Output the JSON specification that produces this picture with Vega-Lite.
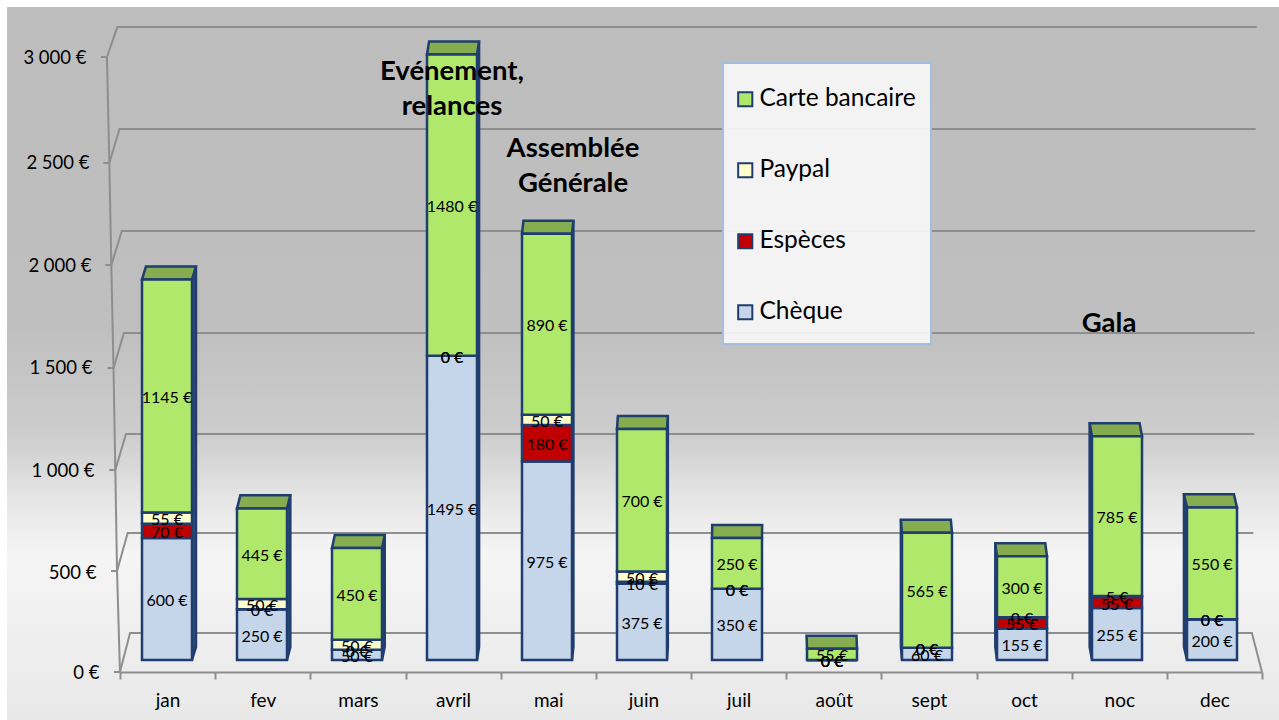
{
"$schema":"https://vega.github.io/schema/vega-lite/v6.json",
"width":1279,"height":720,"padding":0,"autosize":{"type":"none"},
"background":"white",
"config":{"view":{"stroke":null},"font":"Lato"},
"datasets":{
"rows":[
{"m":"jan","k":1,"mode":"Chèque","v":600,"label":"600 €"},{"m":"jan","k":2,"mode":"Espèces","v":70,"label":"70 €"},{"m":"jan","k":3,"mode":"Paypal","v":55,"label":"55 €"},{"m":"jan","k":4,"mode":"Carte bancaire","v":1145,"label":"1145 €"},
{"m":"fev","k":1,"mode":"Chèque","v":250,"label":"250 €"},{"m":"fev","k":2,"mode":"Espèces","v":0,"label":"0 €"},{"m":"fev","k":3,"mode":"Paypal","v":50,"label":"50 €"},{"m":"fev","k":4,"mode":"Carte bancaire","v":445,"label":"445 €"},
{"m":"mars","k":1,"mode":"Chèque","v":50,"label":"50 €"},{"m":"mars","k":2,"mode":"Espèces","v":0,"label":"0 €"},{"m":"mars","k":3,"mode":"Paypal","v":50,"label":"50 €"},{"m":"mars","k":4,"mode":"Carte bancaire","v":450,"label":"450 €"},
{"m":"avril","k":1,"mode":"Chèque","v":1495,"label":"1495 €"},{"m":"avril","k":2,"mode":"Espèces","v":0,"label":"0 €"},{"m":"avril","k":3,"mode":"Paypal","v":0,"label":"0 €"},{"m":"avril","k":4,"mode":"Carte bancaire","v":1480,"label":"1480 €"},
{"m":"mai","k":1,"mode":"Chèque","v":975,"label":"975 €"},{"m":"mai","k":2,"mode":"Espèces","v":180,"label":"180 €"},{"m":"mai","k":3,"mode":"Paypal","v":50,"label":"50 €"},{"m":"mai","k":4,"mode":"Carte bancaire","v":890,"label":"890 €"},
{"m":"juin","k":1,"mode":"Chèque","v":375,"label":"375 €"},{"m":"juin","k":2,"mode":"Espèces","v":10,"label":"10 €"},{"m":"juin","k":3,"mode":"Paypal","v":50,"label":"50 €"},{"m":"juin","k":4,"mode":"Carte bancaire","v":700,"label":"700 €"},
{"m":"juil","k":1,"mode":"Chèque","v":350,"label":"350 €"},{"m":"juil","k":2,"mode":"Espèces","v":0,"label":"0 €"},{"m":"juil","k":3,"mode":"Paypal","v":0,"label":"0 €"},{"m":"juil","k":4,"mode":"Carte bancaire","v":250,"label":"250 €"},
{"m":"août","k":1,"mode":"Chèque","v":0,"label":"0 €"},{"m":"août","k":2,"mode":"Espèces","v":0,"label":"0 €"},{"m":"août","k":3,"mode":"Paypal","v":0,"label":"0 €"},{"m":"août","k":4,"mode":"Carte bancaire","v":55,"label":"55 €"},
{"m":"sept","k":1,"mode":"Chèque","v":60,"label":"60 €"},{"m":"sept","k":2,"mode":"Espèces","v":0,"label":"0 €"},{"m":"sept","k":3,"mode":"Paypal","v":0,"label":"0 €"},{"m":"sept","k":4,"mode":"Carte bancaire","v":565,"label":"565 €"},
{"m":"oct","k":1,"mode":"Chèque","v":155,"label":"155 €"},{"m":"oct","k":2,"mode":"Espèces","v":55,"label":"55 €"},{"m":"oct","k":3,"mode":"Paypal","v":0,"label":"0 €"},{"m":"oct","k":4,"mode":"Carte bancaire","v":300,"label":"300 €"},
{"m":"noc","k":1,"mode":"Chèque","v":255,"label":"255 €"},{"m":"noc","k":2,"mode":"Espèces","v":55,"label":"55 €"},{"m":"noc","k":3,"mode":"Paypal","v":5,"label":"5 €"},{"m":"noc","k":4,"mode":"Carte bancaire","v":785,"label":"785 €"},
{"m":"dec","k":1,"mode":"Chèque","v":200,"label":"200 €"},{"m":"dec","k":2,"mode":"Espèces","v":0,"label":"0 €"},{"m":"dec","k":3,"mode":"Paypal","v":0,"label":"0 €"},{"m":"dec","k":4,"mode":"Carte bancaire","v":550,"label":"550 €"}
],
"walls":[
{"g":"w3000","i":1,"s":-0.195,"lv":3000},{"g":"w3000","i":2,"s":-0.132,"lv":3000},{"g":"w3000","i":3,"s":-0.023,"lv":3146},{"g":"w3000","i":4,"s":11.97,"lv":3146},
{"g":"w2500","i":1,"s":-0.170,"lv":2483},{"g":"w2500","i":2,"s":-0.107,"lv":2483},{"g":"w2500","i":3,"s":0,"lv":2649},{"g":"w2500","i":4,"s":11.96,"lv":2649},
{"g":"w2000","i":1,"s":-0.149,"lv":1985},{"g":"w2000","i":2,"s":-0.086,"lv":1985},{"g":"w2000","i":3,"s":0.024,"lv":2151},{"g":"w2000","i":4,"s":11.955,"lv":2151},
{"g":"w1500","i":1,"s":-0.126,"lv":1483},{"g":"w1500","i":2,"s":-0.063,"lv":1483},{"g":"w1500","i":3,"s":0.047,"lv":1654},{"g":"w1500","i":4,"s":11.95,"lv":1654},
{"g":"w1000","i":1,"s":-0.107,"lv":985},{"g":"w1000","i":2,"s":-0.044,"lv":985},{"g":"w1000","i":3,"s":0.068,"lv":1161},{"g":"w1000","i":4,"s":11.945,"lv":1161},
{"g":"w500","i":1,"s":-0.089,"lv":493},{"g":"w500","i":2,"s":-0.026,"lv":493},{"g":"w500","i":3,"s":0.086,"lv":678},{"g":"w500","i":4,"s":11.935,"lv":678},
{"g":"w0","i":1,"s":-0.058,"lv":0},{"g":"w0","i":2,"s":0.005,"lv":0},{"g":"w0","i":3,"s":0.111,"lv":190},{"g":"w0","i":4,"s":11.92,"lv":190},{"g":"w0","i":5,"s":12.026,"lv":0},
{"g":"front","i":1,"s":-0.132,"lv":3000},{"g":"front","i":2,"s":-0.107,"lv":2483},{"g":"front","i":3,"s":-0.086,"lv":1985},{"g":"front","i":4,"s":-0.063,"lv":1483},{"g":"front","i":5,"s":-0.044,"lv":985},{"g":"front","i":6,"s":-0.026,"lv":493},{"g":"front","i":7,"s":0.005,"lv":0}
],
"tops":[
{"m":"jan","lv":1870,"a":0.237,"b":0.763},{"m":"jan","lv":1934,"a":0.279,"b":0.805},
{"m":"fev","lv":745,"a":1.237,"b":1.763},{"m":"fev","lv":809,"a":1.272,"b":1.798},
{"m":"mars","lv":550,"a":2.237,"b":2.763},{"m":"mars","lv":614,"a":2.266,"b":2.792},
{"m":"avril","lv":2975,"a":3.237,"b":3.763},{"m":"avril","lv":3039,"a":3.259,"b":3.785},
{"m":"mai","lv":2095,"a":4.237,"b":4.763},{"m":"mai","lv":2159,"a":4.252,"b":4.778},
{"m":"juin","lv":1135,"a":5.237,"b":5.763},{"m":"juin","lv":1199,"a":5.246,"b":5.772},
{"m":"juil","lv":600,"a":6.237,"b":6.763},{"m":"juil","lv":664,"a":6.239,"b":6.765},
{"m":"août","lv":55,"a":7.237,"b":7.763},{"m":"août","lv":119,"a":7.232,"b":7.758},
{"m":"sept","lv":625,"a":8.237,"b":8.763},{"m":"sept","lv":689,"a":8.225,"b":8.751},
{"m":"oct","lv":510,"a":9.237,"b":9.763},{"m":"oct","lv":574,"a":9.219,"b":9.745},
{"m":"noc","lv":1100,"a":10.237,"b":10.763},{"m":"noc","lv":1164,"a":10.212,"b":10.738},
{"m":"dec","lv":750,"a":11.237,"b":11.763},{"m":"dec","lv":814,"a":11.205,"b":11.731}
],
"sides":[
{"m":"jan","s":0.763,"lo":0,"hi":1870},{"m":"jan","s":0.805,"lo":64,"hi":1934},
{"m":"fev","s":1.763,"lo":0,"hi":745},{"m":"fev","s":1.798,"lo":64,"hi":809},
{"m":"mars","s":2.763,"lo":0,"hi":550},{"m":"mars","s":2.792,"lo":64,"hi":614},
{"m":"avril","s":3.763,"lo":0,"hi":2975},{"m":"avril","s":3.785,"lo":64,"hi":3039},
{"m":"mai","s":4.763,"lo":0,"hi":2095},{"m":"mai","s":4.778,"lo":64,"hi":2159},
{"m":"juin","s":5.763,"lo":0,"hi":1135},{"m":"juin","s":5.772,"lo":64,"hi":1199},
{"m":"sept","s":8.225,"lo":64,"hi":689},{"m":"sept","s":8.237,"lo":0,"hi":625},
{"m":"oct","s":9.219,"lo":64,"hi":574},{"m":"oct","s":9.237,"lo":0,"hi":510},
{"m":"noc","s":10.212,"lo":64,"hi":1164},{"m":"noc","s":10.237,"lo":0,"hi":1100},
{"m":"dec","s":11.205,"lo":64,"hi":814},{"m":"dec","s":11.237,"lo":0,"hi":750}
],
"notes":[
{"note":"Evénement,\nrelances","s":3.5,"lv":2887},
{"note":"Assemblée\nGénérale","s":4.774,"lv":2509},
{"note":"Gala","s":10.416,"lv":1651}
],
"panel":[{"a":-1.184,"b":12.3,"lo":-234,"hi":3244}],
"box":[{"a":6.353,"b":8.542,"lo":1553,"hi":2934}],
"months":[{"m":"jan"},{"m":"fev"},{"m":"mars"},{"m":"avril"},{"m":"mai"},{"m":"juin"},{"m":"juil"},{"m":"août"},{"m":"sept"},{"m":"oct"},{"m":"noc"},{"m":"dec"}]
},
"resolve":{"scale":{"x":"independent","y":"independent","color":"independent"},"axis":{"x":"independent","y":"independent"}},
"layer":[
{"data":{"name":"panel"},
 "mark":{"type":"rect","fill":{"gradient":"linear","x1":0,"y1":0,"x2":0,"y2":1,"stops":[{"offset":0,"color":"#bdbdbd"},{"offset":0.45,"color":"#bfbfbf"},{"offset":0.6,"color":"#cdcdcd"},{"offset":0.7,"color":"#e8e8e8"},{"offset":0.77,"color":"#f5f5f5"},{"offset":1,"color":"#e8e8e8"}]}},
 "encoding":{
  "x":{"field":"a","type":"quantitative","scale":{"domain":[0,12],"range":[119.5,1259.5],"nice":false,"zero":false},"axis":null},
  "x2":{"field":"b"},
  "y":{"field":"lo","type":"quantitative","scale":{"domain":[0,3000],"range":[672,57],"nice":false},"axis":null},
  "y2":{"field":"hi"}}},
{"data":{"name":"walls"},
 "mark":{"type":"line","color":"#8e8e8e","strokeWidth":2,"interpolate":"linear"},
 "encoding":{
  "x":{"field":"s","type":"quantitative","scale":{"domain":[0,12],"range":[119.5,1259.5],"nice":false,"zero":false},"axis":null},
  "y":{"field":"lv","type":"quantitative","scale":{"domain":[0,3000],"range":[672,57],"nice":false},
   "axis":{"orient":"left","offset":-100,"zindex":1,"values":[0,500,1000,1500,2000,2500,3000],"domain":false,"ticks":false,"grid":false,"title":null,"labelFont":"Lato","labelFontSize":18.5,"labelColor":"#000000","labelOffset":{"condition":{"test":"datum.value==3000||datum.value==0","value":0},"value":3},"labelPadding":{"condition":[{"test":"datum.value==3000","value":14},{"test":"datum.value==2500","value":11},{"test":"datum.value==2000","value":9},{"test":"datum.value==1500","value":8},{"test":"datum.value==1000","value":6},{"test":"datum.value==500","value":4}],"value":1},"labelExpr":"replace(format(datum.value,',d'),',',' ')+' €'"}},
  "detail":{"field":"g"},"order":{"field":"i"}}},
{"data":{"name":"months"},
 "mark":{"type":"rule","opacity":0},
 "encoding":{
  "x":{"field":"m","type":"nominal","scale":{"domain":["jan","fev","mars","avril","mai","juin","juil","août","sept","oct","noc","dec"],"range":[120,1262]},
   "axis":{"orient":"bottom","offset":-48,"zindex":1,"title":null,"labelAngle":0,"tickBand":"extent","tickSize":7,"tickWidth":2,"tickColor":"#8e8e8e","domainColor":"#8e8e8e","domainWidth":2,"labelPadding":12,"labelFont":"Lato","labelFontSize":19,"labelColor":"#000000","grid":false}}}},
{"data":{"name":"sides"},
 "mark":{"type":"area","orient":"vertical","fill":"#30507a","stroke":"#1f3d6e","strokeWidth":2.5},
 "encoding":{
  "x":{"field":"s","type":"quantitative","scale":{"domain":[0,12],"range":[119.5,1259.5],"nice":false,"zero":false},"axis":null},
  "y":{"field":"lo","type":"quantitative","scale":{"domain":[0,3000],"range":[660,49.5],"nice":false},"axis":null},
  "y2":{"field":"hi"},
  "detail":{"field":"m"}}},
{"data":{"name":"tops"},
 "mark":{"type":"area","orient":"horizontal","fill":"#85ad50","stroke":"#1f3d6e","strokeWidth":2.5},
 "encoding":{
  "y":{"field":"lv","type":"quantitative","scale":{"domain":[0,3000],"range":[660,49.5],"nice":false},"axis":null},
  "x":{"field":"a","type":"quantitative","scale":{"domain":[0,12],"range":[119.5,1259.5],"nice":false,"zero":false},"axis":null},
  "x2":{"field":"b"},
  "detail":{"field":"m"}}},
{"data":{"name":"rows"},
 "mark":{"type":"bar","width":50,"stroke":"#1f3d6e","strokeWidth":2.5},
 "encoding":{
  "x":{"field":"m","type":"nominal","scale":{"domain":["jan","fev","mars","avril","mai","juin","juil","août","sept","oct","noc","dec"],"range":[119.5,1259.5]},"axis":null},
  "y":{"field":"v","type":"quantitative","stack":"zero","scale":{"domain":[0,3000],"range":[660,49.5],"nice":false},"axis":null},
  "order":{"field":"k"},
  "color":{"field":"mode","type":"nominal","scale":{"domain":["Carte bancaire","Paypal","Espèces","Chèque"],"range":["#b0e86c","#ffffcc","#c00000","#c6d6ea"]},
   "legend":{"orient":"none","legendX":733,"legendY":87,"title":null,"padding":0,"symbolType":"square","symbolSize":200,"symbolStrokeColor":"#1f3d6e","symbolStrokeWidth":2,"labelFont":"Lato","labelFontSize":24.5,"labelColor":"#000000","rowPadding":46,"labelOffset":2,"labelLimit":200,"zindex":2}}}},
{"data":{"name":"rows"},
 "mark":{"type":"text","font":"Lato","fontSize":16,"color":"#000000","baseline":"middle","dy":2},
 "encoding":{
  "x":{"field":"m","type":"nominal","scale":{"domain":["jan","fev","mars","avril","mai","juin","juil","août","sept","oct","noc","dec"],"range":[119.5,1259.5]},"axis":null},
  "y":{"field":"v","type":"quantitative","stack":"zero","bandPosition":0.5,"scale":{"domain":[0,3000],"range":[660,49.5],"nice":false},"axis":null},
  "order":{"field":"k"},
  "text":{"field":"label"}}},
{"data":{"name":"box"},
 "mark":{"type":"rect","fill":"#f6f6f6","fillOpacity":0.93,"stroke":"#a3bfe0","strokeWidth":2},
 "encoding":{
  "x":{"field":"a","type":"quantitative","scale":{"domain":[0,12],"range":[119.5,1259.5],"nice":false,"zero":false},"axis":null},
  "x2":{"field":"b"},
  "y":{"field":"lo","type":"quantitative","scale":{"domain":[0,3000],"range":[660,49.5],"nice":false},"axis":null},
  "y2":{"field":"hi"}}},
{"data":{"name":"notes"},
 "mark":{"type":"text","font":"Lato","fontSize":27.5,"fontWeight":"bold","color":"#000000","lineBreak":"\n","lineHeight":35,"baseline":"middle"},
 "encoding":{
  "x":{"field":"s","type":"quantitative","scale":{"domain":[0,12],"range":[119.5,1259.5],"nice":false,"zero":false},"axis":null},
  "y":{"field":"lv","type":"quantitative","scale":{"domain":[0,3000],"range":[660,49.5],"nice":false},"axis":null},
  "text":{"field":"note"}}}
]
}
